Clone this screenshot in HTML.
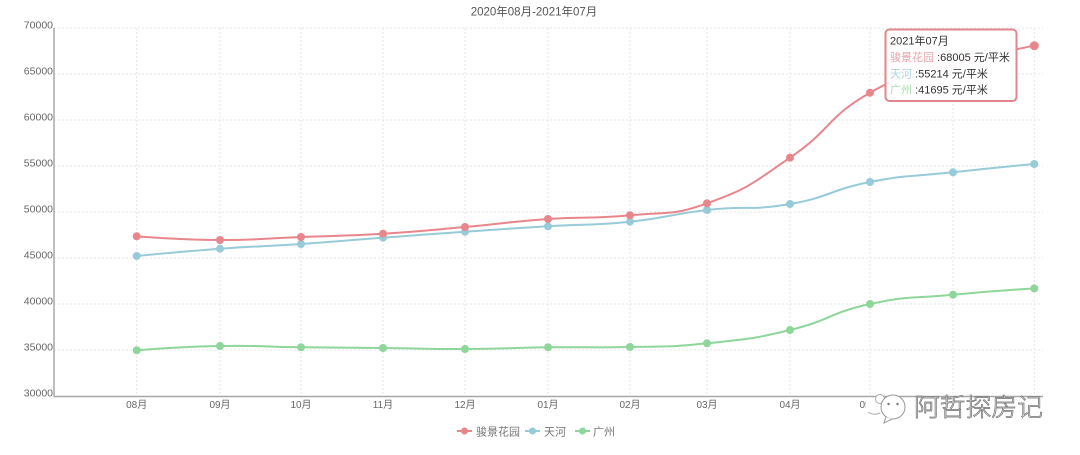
<!DOCTYPE html>
<html>
<head>
<meta charset="utf-8">
<style>
  html,body{margin:0;padding:0;background:#fff;}
  svg{display:block;}
  text{font-family:"Liberation Sans","Noto Sans CJK SC",sans-serif;}
</style>
</head>
<body>
<svg width="1080" height="455" viewBox="0 0 1080 455" xmlns="http://www.w3.org/2000/svg">
  <rect width="1080" height="455" fill="#fff"/>
  <!-- title -->
  <text x="534" y="15.5" font-size="11.5" fill="#555" text-anchor="middle">2020年08月-2021年07月</text>

  <!-- horizontal grid -->
  <g stroke="#e4e4e4" stroke-width="1" stroke-dasharray="2,2" fill="none">
    <line x1="54" y1="28" x2="1043" y2="28"/>
    <line x1="54" y1="74" x2="1043" y2="74"/>
    <line x1="54" y1="120" x2="1043" y2="120"/>
    <line x1="54" y1="166" x2="1043" y2="166"/>
    <line x1="54" y1="212" x2="1043" y2="212"/>
    <line x1="54" y1="258" x2="1043" y2="258"/>
    <line x1="54" y1="304" x2="1043" y2="304"/>
    <line x1="54" y1="350" x2="1043" y2="350"/>
  </g>
  <!-- vertical grid -->
  <g stroke="#e4e4e4" stroke-width="1" stroke-dasharray="2,2" fill="none">
    <line x1="136.7" y1="28" x2="136.7" y2="396"/>
    <line x1="220" y1="28" x2="220" y2="396"/>
    <line x1="301" y1="28" x2="301" y2="396"/>
    <line x1="383" y1="28" x2="383" y2="396"/>
    <line x1="465" y1="28" x2="465" y2="396"/>
    <line x1="548" y1="28" x2="548" y2="396"/>
    <line x1="630" y1="28" x2="630" y2="396"/>
    <line x1="707" y1="28" x2="707" y2="396"/>
    <line x1="790" y1="28" x2="790" y2="396"/>
    <line x1="870" y1="28" x2="870" y2="396"/>
    <line x1="953" y1="28" x2="953" y2="396"/>
    <line x1="1034.3" y1="28" x2="1034.3" y2="396"/>
  </g>

  <!-- axes -->
  <line x1="54" y1="28" x2="54" y2="396.5" stroke="#a8a8a8" stroke-width="1.5"/>
  <line x1="53.5" y1="396.5" x2="1043" y2="396.5" stroke="#a8a8a8" stroke-width="1.5"/>

  <!-- y labels -->
  <g font-size="10.5" fill="#666" text-anchor="end">
    <text x="53" y="28.5">70000</text>
    <text x="53" y="74.5">65000</text>
    <text x="53" y="120.5">60000</text>
    <text x="53" y="166.5">55000</text>
    <text x="53" y="212.5">50000</text>
    <text x="53" y="258.5">45000</text>
    <text x="53" y="304.5">40000</text>
    <text x="53" y="350.5">35000</text>
    <text x="53" y="396.5">30000</text>
  </g>

  <!-- x labels -->
  <g font-size="10" fill="#666" text-anchor="middle">
    <text x="136.7" y="408">08月</text>
    <text x="220" y="408">09月</text>
    <text x="301" y="408">10月</text>
    <text x="383" y="408">11月</text>
    <text x="465" y="408">12月</text>
    <text x="548" y="408">01月</text>
    <text x="630" y="408">02月</text>
    <text x="707" y="408">03月</text>
    <text x="790" y="408">04月</text>
    <text x="870" y="408">05月</text>
    <text x="953" y="408">06月</text>
    <text x="1034.3" y="408">07月</text>
  </g>

  <!-- series: green -->
  <path fill="none" stroke="#8fd69b" stroke-width="2" d="M136.7,350.3 C136.7,350.3 178.3,346.76 220,346 C260.45,345.26 260.5,346.8 301,347.3 C342,347.8 342,347.58 383,348 C424,348.42 424,349.17 465,349 C506.5,348.82 506.5,347.8 548,347.3 C589,346.8 589.2,348.03 630,347 C668.7,346.03 668.7,347.37 707,343.3 C748.7,338.87 749.25,339.83 790,330 C830.75,320.18 829.1,312.86 870,304 C910.6,295.21 911.4,298.65 953,294.7 C993.6,290.85 1034.3,288.4 1034.3,288.4"/>
  <g fill="#8fd69b">
    <circle cx="136.7" cy="350.3" r="4"/><circle cx="220" cy="346" r="4"/><circle cx="301" cy="347.3" r="4"/><circle cx="383" cy="348" r="4"/><circle cx="465" cy="349" r="4"/><circle cx="548" cy="347.3" r="4"/><circle cx="630" cy="347" r="4"/><circle cx="707" cy="343.3" r="4"/><circle cx="790" cy="330" r="4"/><circle cx="870" cy="304" r="4"/><circle cx="953" cy="294.7" r="4"/><circle cx="1034.3" cy="288.4" r="4"/>
  </g>

  <!-- series: blue -->
  <path fill="none" stroke="#97cbd8" stroke-width="2" d="M136.7,256 C136.7,256 178.3,251.75 220,248.7 C260.45,245.75 260.5,246.73 301,244 C342,241.23 342,240.78 383,237.7 C424,234.63 424,234.53 465,231.7 C506.5,228.83 506.5,228.8 548,226.3 C589,223.8 589.2,225.88 630,221.7 C668.7,217.73 668.3,214.28 707,210 C748.3,205.43 749.2,211 790,204 C830.7,197 829.4,189.9 870,182 C910.9,174.05 911.5,176.85 953,172.3 C993.6,167.85 1034.3,164 1034.3,164"/>
  <g fill="#97cbd8">
    <circle cx="136.7" cy="256" r="4"/><circle cx="220" cy="248.7" r="4"/><circle cx="301" cy="244" r="4"/><circle cx="383" cy="237.7" r="4"/><circle cx="465" cy="231.7" r="4"/><circle cx="548" cy="226.3" r="4"/><circle cx="630" cy="221.7" r="4"/><circle cx="707" cy="210" r="4"/><circle cx="790" cy="204" r="4"/><circle cx="870" cy="182" r="4"/><circle cx="953" cy="172.3" r="4"/><circle cx="1034.3" cy="164" r="4"/>
  </g>

  <!-- series: red -->
  <path fill="none" stroke="#e8868c" stroke-width="2" d="M136.7,236.3 C136.7,236.3 178.35,239.82 220,240 C260.5,240.17 260.5,238.57 301,237 C342,235.42 342,236.2 383,233.7 C424,231.2 424,230.65 465,227 C506.5,223.3 506.4,221.95 548,219 C588.9,216.1 589.2,219.33 630,215.3 C668.7,211.48 670.9,216.3 707,203.3 C750.9,187.5 751,184.18 790,157.7 C832.5,128.88 825.9,117.78 870,92.7 C907.4,71.42 911,77.02 953,65 C993.1,53.52 1034.3,45.7 1034.3,45.7"/>
  <g fill="#e8868c">
    <circle cx="136.7" cy="236.3" r="4"/><circle cx="220" cy="240" r="4"/><circle cx="301" cy="237" r="4"/><circle cx="383" cy="233.7" r="4"/><circle cx="465" cy="227" r="4"/><circle cx="548" cy="219" r="4"/><circle cx="630" cy="215.3" r="4"/><circle cx="707" cy="203.3" r="4"/><circle cx="790" cy="157.7" r="4"/><circle cx="870" cy="92.7" r="4"/><circle cx="953" cy="65" r="4"/><circle cx="1034.3" cy="45.7" r="4.5"/>
  </g>

  <!-- tooltip -->
  <rect x="885.5" y="29.5" width="131" height="71.5" rx="4" ry="4" fill="#fff" fill-opacity="0.95" stroke="#e0868d" stroke-width="2"/>
  <g font-size="11" fill="#333">
    <text x="890" y="44.5">2021年07月</text>
    <text x="890" y="61"><tspan fill="#e8a3a8">骏景花园</tspan> :68005 元/平米</text>
    <text x="890" y="77.5"><tspan fill="#a9d6df">天河</tspan> :55214 元/平米</text>
    <text x="890" y="93.5"><tspan fill="#a8dcb0">广州</tspan> :41695 元/平米</text>
  </g>

  <!-- legend -->
  <g>
    <line x1="457" y1="431" x2="472" y2="431" stroke="#e8868c" stroke-width="2"/>
    <circle cx="464.5" cy="431" r="3.5" fill="#e8868c"/>
    <text x="476" y="435.5" font-size="11" fill="#777">骏景花园</text>
    <line x1="525" y1="431" x2="540" y2="431" stroke="#97cbd8" stroke-width="2"/>
    <circle cx="532.5" cy="431" r="3.5" fill="#97cbd8"/>
    <text x="544" y="435.5" font-size="11" fill="#777">天河</text>
    <line x1="575" y1="431" x2="590" y2="431" stroke="#8fd69b" stroke-width="2"/>
    <circle cx="582.5" cy="431" r="3.5" fill="#8fd69b"/>
    <text x="593" y="435.5" font-size="11" fill="#777">广州</text>
  </g>

  <!-- watermark -->
  <rect x="866" y="398" width="182" height="24" fill="#fff"/>
  <path d="M868,412 Q874,416 880,413" fill="none" stroke="#aaa" stroke-width="1"/>
  <circle cx="880" cy="399" r="4.5" fill="#fff" stroke="#aaa" stroke-width="1"/>
  <circle cx="893" cy="407" r="12" fill="#fff" stroke="#999" stroke-width="1"/>
  <path d="M886,417 L884,423 L892,419" fill="#fff" stroke="#999" stroke-width="1"/>
  <circle cx="888.5" cy="404" r="1.2" fill="#777"/>
  <circle cx="897.5" cy="404" r="1.2" fill="#777"/>
  <text x="914" y="416" font-size="25" textLength="129" lengthAdjust="spacingAndGlyphs" fill="#f7f7f7" stroke="#6f6f6f" stroke-width="0.7" style="font-family:'Noto Sans CJK SC',sans-serif;font-weight:300;">阿哲探房记</text>
</svg>
</body>
</html>
